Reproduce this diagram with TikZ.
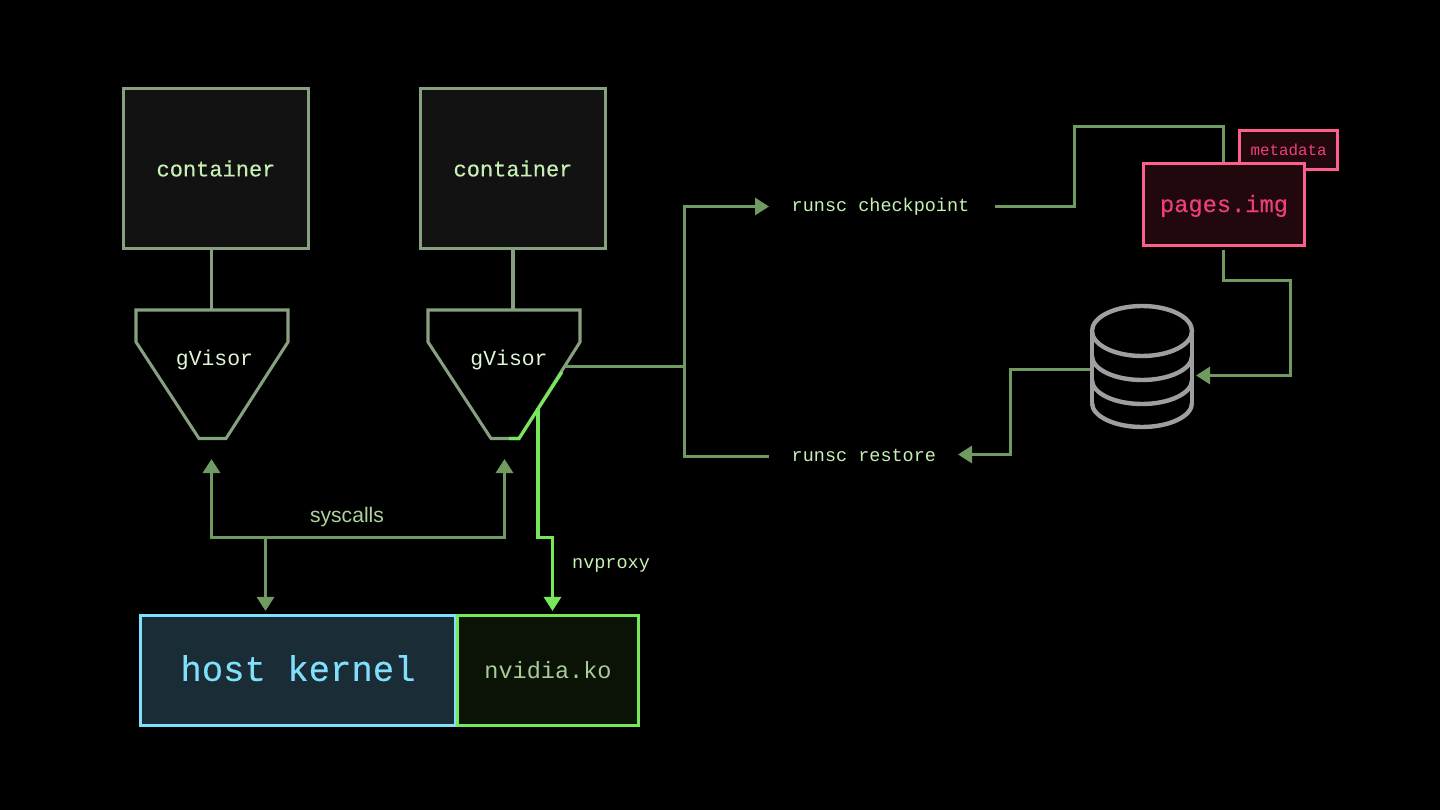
\documentclass[tikz,border=0pt]{standalone}
\usepackage{fontspec}
\setmonofont{Liberation Mono}
\setsansfont{Liberation Sans}
\newfontfamily\medmono[FakeBold=0.25]{Liberation Mono}
\usetikzlibrary{arrows.meta}
\definecolor{wire}{HTML}{6F9B63}
\definecolor{frame}{HTML}{87A07F}
\definecolor{lime}{HTML}{76E85A}
\definecolor{limefill}{HTML}{0A1306}
\definecolor{sky}{HTML}{80DFFA}
\definecolor{skyfill}{HTML}{1A2C35}
\definecolor{rose}{HTML}{FF5F8F}
\definecolor{rosefill}{HTML}{21080C}
\definecolor{rosetext}{HTML}{F03F78}
\definecolor{leaf}{HTML}{C6F0B4}
\tikzset{
%Define standard arrow tip
>={Triangle[length=0.4pt*14*0.711,width=0.4pt*17*0.711]},
%Define style for the connectors
wire/.style={draw=wire, line width=0.87pt},
gpuwire/.style={draw=lime, line width=0.87pt},
%Define style for the boxes
box/.style={draw, line width=0.87pt, inner sep=0pt, font=\ttfamily},
label/.style={inner sep=0pt, text=leaf, font=\ttfamily\fontsize{5.26}{6}\selectfont},
}
\begin{document}
\begin{tikzpicture}[x=0.01cm,y=-0.01cm]

% black background
\fill[black] (0,0) rectangle (1440,810);
\useasboundingbox (0,0) rectangle (1440,810);

% containers
\node[box,draw=frame,fill=black!93!white,text=leaf,minimum width=1.84cm,minimum height=1.6cm,font=\medmono\fontsize{6.26}{7}\selectfont] (boxa) at (216,168.5) {container};
\node[box,draw=frame,fill=black!93!white,text=leaf,minimum width=1.84cm,minimum height=1.6cm,font=\medmono\fontsize{6.26}{7}\selectfont] (boxb) at (513,168.5) {container};

% gVisor funnels
\draw[frame,line width=0.87pt,line join=miter] (136,310) -- (288,310) -- (288,342) -- (226,438.5) -- (199,438.5) -- (136,342) -- cycle;
\draw[frame,line width=0.87pt,line join=miter] (428,310) -- (580,310) -- (580,342) -- (519,438.5) -- (491,438.5) -- (428,342) -- cycle;
\node[label,text=leaf!55!white,font=\ttfamily\fontsize{6.09}{7}\selectfont] (visora) at (214.5,360) {gVisor};
\node[label,text=leaf!55!white,font=\ttfamily\fontsize{6.09}{7}\selectfont] (visorb) at (509,360) {gVisor};
\coordinate (topa) at (211.5,310);
\coordinate (topb) at (513,310);
\coordinate (sidea) at (565,366.5);
\coordinate (sideb) at (538,408);
\draw[wire,draw=frame] (topa) -- (boxa.south -| topa);
\draw[wire,draw=frame] (topb) -- (boxb.south -| topb);

% nvproxy path, runs over the funnel edge
\draw[gpuwire] (509,438.5) -- (519,438.5) -- (562,372);

% kernel and driver
\node[box,draw=sky,fill=skyfill,text=sky,minimum width=3.15cm,minimum height=1.1cm,text height=6.9pt,text depth=1pt,font=\medmono\fontsize{10.13}{12}\selectfont] (host) at (298,670.5) {host kernel};
\node[box,draw=lime,fill=limefill,text=leaf!85!black,minimum width=1.8cm,minimum height=1.1cm,font=\ttfamily\fontsize{6.69}{8}\selectfont] (driver) at (548,670.5) {nvidia.ko};

% syscalls
\coordinate (upa) at (211.5,459);
\coordinate (upb) at (504.5,459);
\coordinate (downa) at (265.5,611);
\draw[wire,<->] (upa) -- (211.5,537.5) -- (504.5,537.5) -- (upb);
\draw[wire,->] (265.5,537.5) -- (downa);
\node[label,text=leaf!88!black,font=\sffamily\fontsize{6}{7}\selectfont] (sys) at (347,517) {syscalls};

% nvproxy
\coordinate (downb) at (552.5,611);
\draw[gpuwire,->] (sideb) -- (538,537.5) -- (552.5,537.5) -- (downb);
\node[label] (nvp) at (611,565) {nvproxy};

% runsc commands
\node[label,anchor=west] (check) at (791,207) {runsc checkpoint};
\node[label,anchor=west] (restore) at (791,455.5) {runsc restore};
\coordinate (checkin) at (769,206.5);
\coordinate (checkout) at (995,206.5);
\coordinate (restorein) at (769,456.5);
\coordinate (restoreout) at (958,454.5);
\draw[wire] (sidea) -- (684.5,366.5);
\draw[wire,->] (restorein) -- (684.5,456.5) -- (684.5,206.5) -- (checkin);

% snapshot files
\node[box,draw=rose,fill=rosefill,text=rosetext,minimum width=0.98cm,minimum height=0.39cm,font=\ttfamily\fontsize{4.5}{5}\selectfont] (meta) at (1288.5,150) {metadata};
\draw[wire] (checkout) -- (1074.5,206.5) -- (1074.5,126.5) -- (1223.5,126.5) -- (1223.5,164);
\node[box,draw=rose,fill=rosefill,text=rosetext,minimum width=1.61cm,minimum height=0.82cm,text height=5.7pt,text depth=1.4pt,font=\medmono\fontsize{6.74}{8}\selectfont] (pages) at (1224,204.5) {pages.img};

% database
\begin{scope}[gray!75!white,line width=1.25pt]
\draw (1142,331) ellipse [x radius=50, y radius=25];
\draw (1092,331) -- (1092,403);
\draw (1192,331) -- (1192,403);
\draw (1092,356) arc [start angle=180, end angle=360, x radius=50, y radius=-24];
\draw (1092,380) arc [start angle=180, end angle=360, x radius=50, y radius=-24];
\draw (1092,403) arc [start angle=180, end angle=360, x radius=50, y radius=-24];
\end{scope}
\coordinate (dbin) at (1196,375.5);
\coordinate (dbout) at (1090,369.5);
\coordinate (pagesout) at (1223.5,250);
\draw[wire,->] (pagesout) -- (1223.5,280.5) -- (1290.5,280.5) -- (1290.5,375.5) -- (dbin);
\draw[wire,->] (dbout) -- (1010.5,369.5) -- (1010.5,454.5) -- (restoreout);

\end{tikzpicture}
\end{document}
